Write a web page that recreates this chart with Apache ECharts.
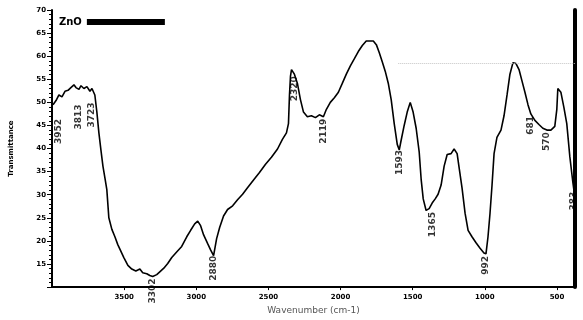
<!DOCTYPE html>
<html>
<head>
<meta charset="utf-8">
<script src="https://cdn.jsdelivr.net/npm/echarts@6/dist/echarts.min.js"></script>
<style>
  html, body { margin: 0; padding: 0; background: #fff; }
  #chart { width: 583px; height: 320px; }
</style>
</head>
<body>
<div id="chart"></div>
<script>
// FTIR spectrum: wavenumber (cm-1) against transmittance
const wavenumber = [
  3993, 3972, 3952, 3931, 3910, 3889, 3869, 3848, 3834, 3813,
  3799, 3779, 3758, 3737, 3723, 3703, 3689, 3675, 3661, 3647,
  3633, 3620, 3606, 3585, 3564, 3544, 3523, 3502, 3474, 3447,
  3419, 3391, 3371, 3343, 3322, 3302, 3274, 3253, 3225, 3198,
  3170, 3136, 3101, 3066, 3039, 3011, 2990, 2970, 2949, 2921,
  2900, 2880, 2859, 2838, 2811, 2783, 2748, 2714, 2679, 2645,
  2603, 2562, 2520, 2479, 2437, 2403, 2375, 2361, 2354, 2347,
  2340, 2320, 2299, 2278, 2257, 2230, 2202, 2174, 2147, 2119,
  2098, 2071, 2043, 2015, 1988, 1960, 1932, 1905, 1877, 1849,
  1822, 1801, 1773, 1752, 1732, 1711, 1690, 1669, 1649, 1628,
  1607, 1593, 1580, 1559, 1538, 1517, 1497, 1476, 1455, 1441,
  1427, 1407, 1386, 1365, 1344, 1324, 1303, 1282, 1261, 1234,
  1213, 1192, 1178, 1158, 1137, 1116, 1089, 1061, 1033, 1006,
  992, 978, 964, 950, 936, 916, 888, 867, 846, 826,
  805, 784, 763, 743, 722, 701, 681, 653, 625, 598,
  570, 542, 515, 501, 494, 473, 452, 432, 411, 390,
  383
];
const transmittance = [
  49.5, 50.4, 51.6, 51.2, 52.4, 52.6, 53.2, 53.8, 53.2, 52.8,
  53.6, 53.0, 53.4, 52.4, 53.0, 51.6, 47.9, 43.4, 39.7, 36.2,
  33.6, 31.1, 25.0, 22.5, 20.9, 19.2, 17.8, 16.4, 14.7, 13.9,
  13.5, 13.9, 13.1, 12.9, 12.5, 12.3, 12.7, 13.3, 14.1, 15.1,
  16.4, 17.6, 18.8, 20.9, 22.3, 23.7, 24.3, 23.3, 21.3, 19.4,
  18.0, 16.8, 20.5, 22.9, 25.4, 26.8, 27.6, 28.9, 30.1, 31.5,
  33.2, 34.8, 36.6, 38.1, 39.9, 42.0, 43.4, 45.4, 51.6, 55.7,
  57.1, 56.1, 54.1, 50.6, 47.9, 46.9, 47.1, 46.7, 47.3, 46.9,
  48.5, 50.0, 51.0, 52.2, 54.1, 56.1, 57.9, 59.4, 61.0, 62.3,
  63.3, 63.3, 63.3, 62.5, 60.8, 58.8, 56.7, 54.1, 50.6, 45.4,
  40.9, 39.7, 41.8, 45.0, 47.9, 50.0, 47.9, 44.4, 39.3, 33.2,
  29.1, 26.6, 27.0, 28.2, 29.1, 30.1, 32.1, 36.2, 38.7, 38.9,
  39.9, 38.9, 35.8, 31.5, 26.0, 22.3, 20.9, 19.6, 18.4, 17.4,
  17.2, 20.9, 26.0, 32.1, 38.9, 42.4, 44.0, 47.1, 51.6, 56.1,
  58.6, 58.4, 57.1, 54.7, 52.2, 49.5, 47.5, 46.1, 45.2, 44.4,
  44.0, 44.0, 44.8, 48.5, 53.0, 52.2, 48.9, 45.4, 38.3, 32.7,
  31.1
];

// Band positions annotated on the spectrum (cm-1)
const peakWavenumbers = [3952, 3813, 3723, 3302, 2880, 2320, 2119, 1593, 1365, 992, 681, 570, 383];

// Axis tick labels
const xTickLabels = [3500, 3000, 2500, 2000, 1500, 1000, 500];
const yTickLabels = [15, 20, 25, 30, 35, 40, 45, 50, 55, 60, 65, 70];

const sampleName = 'ZnO';
const baselineLevel = 58.4;

// extra gap (px) between a band and its rotated label
const labelGap = { 3952: 24, 3813: 15, 3723: 14, 1365: 9, 1593: 0, 2880: 0 };

const spectrum = wavenumber.map((w, i) => [w, transmittance[i]]);
const peakPoints = peakWavenumbers.map(w => {
  const i = wavenumber.indexOf(w);
  return {
    value: [w, transmittance[i]],
    label: { distance: labelGap[w] !== undefined ? labelGap[w] : 2 }
  };
});

const boldFont = { fontFamily: 'DejaVu Sans', fontWeight: 'bold', color: '#000' };

const chart = echarts.init(document.getElementById('chart'), null, { renderer: 'canvas' });
chart.setOption({
  animation: false,
  backgroundColor: '#fff',
  grid: { left: 50, right: 8, top: 10, bottom: 17 },
  legend: {
    left: 54,
    top: 12,
    align: 'right',
    itemWidth: 78,
    itemHeight: 6,
    itemGap: 4,
    icon: 'rect',
    data: [sampleName],
    textStyle: { fontFamily: 'DejaVu Sans', fontWeight: 'bold', fontSize: 10, color: '#000', padding: [0, 0, 0, 0] }
  },
  xAxis: {
    type: 'value',
    inverse: true,
    min: 375,
    max: 4000,
    name: 'Wavenumber (cm-1)',
    nameLocation: 'middle',
    nameGap: 13,
    nameTextStyle: { fontFamily: 'DejaVu Sans', fontSize: 9, color: '#555', verticalAlign: 'top' },
    axisLine: { lineStyle: { color: '#000', width: 2 } },
    axisTick: { show: true, customValues: xTickLabels, length: 3, lineStyle: { color: '#000' } },
    axisLabel: Object.assign({ customValues: xTickLabels, fontSize: 7, margin: 7, formatter: v => String(v) }, boldFont),
    splitLine: { show: false }
  },
  yAxis: [
    {
      type: 'value',
      min: 10,
      max: 70,
      interval: 5,
      name: 'Transmittance',
      nameLocation: 'middle',
      nameGap: 37,
      nameRotate: 90,
      nameTextStyle: Object.assign({ fontSize: 7 }, boldFont),
      axisLine: { show: true, lineStyle: { color: '#000', width: 2 } },
      axisTick: { show: true, length: 5, lineStyle: { color: '#000' } },
      minorTick: { show: true, splitNumber: 5, length: 3, lineStyle: { color: '#000' } },
      axisLabel: Object.assign({ fontSize: 7, margin: 6, showMinLabel: false }, boldFont),
      splitLine: { show: false }
    },
    {
      type: 'value',
      position: 'right',
      min: 10,
      max: 70,
      axisLine: { show: true, lineStyle: { color: '#000', width: 4 } },
      axisTick: { show: false },
      axisLabel: { show: false },
      splitLine: { show: false }
    }
  ],
  series: [
    {
      name: sampleName,
      type: 'line',
      data: spectrum,
      showSymbol: false,
      symbol: 'none',
      color: '#000',
      lineStyle: { color: '#000', width: 1.6 },
      silent: true,
      markLine: {
        silent: true,
        symbol: 'none',
        label: { show: false },
        lineStyle: { color: '#c4c4c4', type: 'dotted', width: 1 },
        data: [[{ coord: [1600, baselineLevel] }, { coord: [375, baselineLevel] }]]
      }
    },
    {
      name: 'bands',
      type: 'scatter',
      data: peakPoints,
      symbolSize: 0.1,
      itemStyle: { color: 'rgba(0,0,0,0)' },
      silent: true,
      z: 5,
      label: Object.assign({
        show: true,
        position: 'bottom',
        rotate: 90,
        align: 'right',
        verticalAlign: 'middle',
        fontSize: 9,
        formatter: p => String(p.value[0])
      }, boldFont)
    }
  ]
});
</script>
</body>
</html>
